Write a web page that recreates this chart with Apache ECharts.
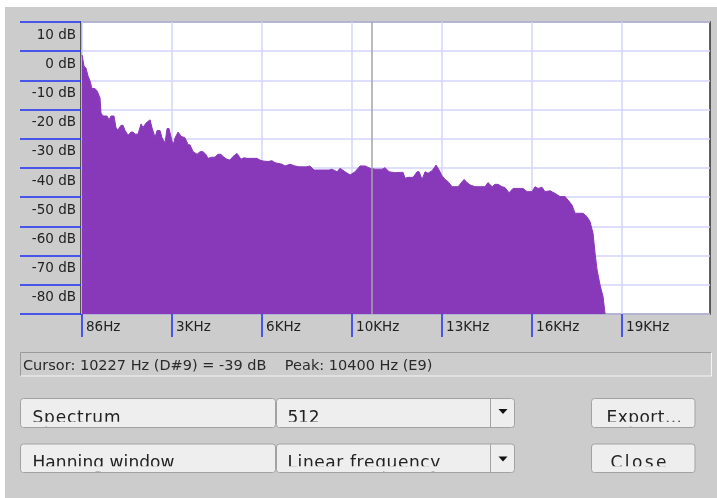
<!DOCTYPE html>
<html>
<head>
<meta charset="utf-8">
<script src="https://cdn.jsdelivr.net/npm/echarts@6/dist/echarts.min.js"></script>
<style>
  html, body { margin: 0; padding: 0; background: #ffffff; }
  #chart { width: 717px; height: 498px; }
</style>
</head>
<body>
<div id="chart"></div>
<script>
// Spectrum of the selection: frequency (Hz) and level (dB)
const freqHz = [
  86, 155, 225, 295, 365, 435, 540, 610, 645, 715,
  750, 820, 960, 1030, 1100, 1205, 1275, 1345, 1450, 1520,
  1590, 1695, 1800, 1870, 1940, 2045, 2150, 2220, 2325, 2465,
  2535, 2640, 2710, 2815, 2885, 2990, 3060, 3130, 3200, 3270,
  3340, 3445, 3550, 3690, 3795, 3865, 3970, 4110, 4215, 4320,
  4425, 4490, 4630, 4735, 4840, 4945, 5015, 5155, 5260, 5365,
  5505, 5540, 5645, 5750, 5855, 5960, 6065, 6205, 6310, 6415,
  6590, 6730, 6835, 7080, 7185, 7360, 7535, 7675, 7955, 8060,
  8200, 8375, 8550, 8725, 8830, 9005, 9110, 9285, 9460, 9635,
  9810, 9985, 10160, 10335, 10580, 10685, 10825, 11035, 11210, 11315,
  11385, 11490, 11665, 11805, 11875, 11980, 12085, 12190, 12330, 12470,
  12575, 12680, 12785, 12890, 13030, 13240, 13380, 13450, 13550, 13660,
  13830, 14010, 14180, 14285, 14430, 14530, 14635, 14775, 14880, 15020,
  15160, 15335, 15510, 15650, 15825, 15930, 16035, 16175, 16280, 16455,
  16630, 16805, 16980, 17085, 17225, 17330, 17610, 17750, 17855, 17960,
  18030, 18100, 18205, 18310, 18380
];
const levelDb = [
  -1.3, -5.1, -5.8, -8.5, -10.2, -12.8, -12.8, -13.6, -14.3, -16.0,
  -21.2, -22.2, -22.2, -23.5, -22.2, -22.2, -26.3, -26.9, -25.4, -25.4,
  -27.1, -28.8, -27.7, -27.7, -28.4, -28.4, -24.9, -26.1, -24.6, -23.5,
  -26.3, -29.5, -27.2, -27.2, -29.7, -31.4, -26.5, -26.5, -29.4, -32.2,
  -29.7, -27.7, -29.1, -29.7, -32.0, -32.1, -34.4, -35.3, -34.4, -34.4,
  -35.5, -36.7, -36.3, -36.3, -35.3, -35.3, -36.1, -37.0, -37.3, -36.1,
  -35.0, -35.0, -37.0, -36.5, -36.7, -36.7, -36.7, -36.7, -37.3, -37.6,
  -37.8, -37.5, -38.2, -38.7, -39.3, -38.7, -39.3, -39.6, -39.6, -39.3,
  -40.7, -40.7, -40.7, -40.7, -40.4, -41.3, -40.1, -41.3, -42.4, -41.3,
  -39.3, -39.3, -40.1, -40.4, -40.4, -39.9, -41.3, -41.6, -41.5, -41.5,
  -43.5, -43.2, -43.2, -41.3, -41.3, -43.9, -41.3, -41.8, -40.9, -39.0,
  -40.7, -42.7, -43.9, -44.7, -46.4, -46.4, -44.7, -43.9, -45.0, -45.8,
  -46.4, -46.4, -46.4, -45.0, -46.4, -45.6, -45.6, -46.4, -46.7, -48.5,
  -47.0, -47.0, -47.0, -48.1, -48.1, -46.4, -47.0, -46.6, -48.1, -47.8,
  -48.7, -49.8, -49.8, -51.0, -52.7, -55.5, -55.5, -56.7, -58.4, -62.4,
  -69.2, -74.9, -80.1, -84.1, -90.0
];

// Frequency ruler
const freqTicks = [86, 3234, 6382, 9530, 12678, 15826, 18974];
const freqTickLabels = ['86Hz', '3KHz', '6KHz', '10KHz', '13KHz', '16KHz', '19KHz'];

// Cursor read-out
const cursorHz = 10227;
const cursorNote = 'D#9';
const cursorDb = -39;
const peakHz = 10400;
const peakNote = 'E9';

// Dialog controls
const algorithmChoice = 'Spectrum';
const sizeChoice = '512';
const windowChoice = 'Hanning window';
const axisChoice = 'Linear frequency';
const exportLabel = 'Export...';
const closeLabel = 'Close';

const FONT = '"DejaVu Sans", "Liberation Sans", sans-serif';
const TICK_BLUE = '#1e2ef2';
const GRID_LAVENDER = '#d3d3fc';
const SPECTRUM = '#8839b9';

const chart = echarts.init(document.getElementById('chart'), null, { renderer: 'canvas' });

// Letter-spaced label, fitted to a given width
const measureCtx = document.createElement('canvas').getContext('2d');
function spacedText(str, x, y, width, size, color) {
  const font = size + 'px ' + FONT;
  measureCtx.font = font;
  const chars = Array.from(str);
  const natural = measureCtx.measureText(str).width;
  const gap = chars.length > 1 ? (width - natural) / (chars.length - 1) : 0;
  let cx = x;
  const els = [];
  chars.forEach(function (ch) {
    els.push({
      type: 'text', x: cx, y: y, z: 20, silent: true,
      style: { text: ch, font: font, fill: color, align: 'left', verticalAlign: 'middle' }
    });
    cx += measureCtx.measureText(ch).width + gap;
  });
  return els;
}

const FACE = '#eeeeee';
const EDGE = '#a2a2a2';

function buttonFace(x, y, w, h) {
  return {
    type: 'rect', z: 10, silent: true,
    shape: { x: x, y: y, width: w, height: h, r: 3 },
    style: { fill: FACE, stroke: EDGE, lineWidth: 1 }
  };
}
// covers the lower part of a label (labels are cut off just above their baseline)
function labelCut(x, y, w, h) {
  return {
    type: 'rect', z: 30, silent: true,
    shape: { x: x, y: y, width: w, height: h },
    style: { fill: FACE }
  };
}
function arrow(cx, cy) {
  return {
    type: 'polygon', z: 31, silent: true,
    shape: { points: [[cx - 4.5, cy - 2.5], [cx + 4.5, cy - 2.5], [cx, cy + 2.5]] },
    style: { fill: '#111111' }
  };
}
function separator(x, y1, y2) {
  return {
    type: 'line', z: 31, silent: true,
    shape: { x1: x, y1: y1, x2: x, y2: y2 },
    style: { stroke: EDGE, lineWidth: 1 }
  };
}

const statusText = 'Cursor: ' + cursorHz + ' Hz (' + cursorNote + ') = ' + cursorDb + ' dB    Peak: ' +
  peakHz + ' Hz (' + peakNote + ')';

const elements = [
  { type: 'rect', z: 0, silent: true, shape: { x: 0, y: 0, width: 717, height: 7 }, style: { fill: '#ffffff' } },
  { type: 'rect', z: 0, silent: true, shape: { x: 0, y: 0, width: 5, height: 498 }, style: { fill: '#ffffff' } },
  // status bar
  { type: 'rect', z: 10, silent: true, shape: { x: 20.5, y: 352.5, width: 691, height: 23.5 }, style: { fill: '#cdcdcd', stroke: null } },
  { type: 'polyline', z: 11, silent: true, shape: { points: [[20.5, 376], [20.5, 352.5], [711.5, 352.5]] }, style: { stroke: '#9a9a9a', lineWidth: 1, fill: null } },
  { type: 'polyline', z: 11, silent: true, shape: { points: [[711.5, 352.5], [711.5, 376], [20.5, 376]] }, style: { stroke: '#f4f4f4', lineWidth: 1, fill: null } },
  {
    type: 'text', z: 20, silent: true, x: 23, y: 366,
    style: { text: statusText, font: '14.5px ' + FONT, fill: '#2a2a2a', align: 'left', verticalAlign: 'middle' }
  },
  // first row
  buttonFace(20.5, 398.5, 255, 29),
  buttonFace(276.5, 398.5, 238, 29),
  separator(490.5, 399, 427),
  buttonFace(591.5, 398.5, 103.5, 29),
  // second row
  buttonFace(20.5, 444, 255, 28.5),
  buttonFace(276.5, 444, 238, 28.5),
  separator(490.5, 444.5, 472),
  buttonFace(591.5, 444, 103.5, 28.5)
];

const BTN_SIZE = 17;
elements.push.apply(elements, spacedText(algorithmChoice, 32.5, 418.2, 88, BTN_SIZE, '#222222'));
elements.push.apply(elements, spacedText(sizeChoice, 287.5, 418.2, 32, BTN_SIZE, '#222222'));
elements.push.apply(elements, spacedText(exportLabel, 606.5, 418.2, 75.5, BTN_SIZE, '#222222'));
elements.push.apply(elements, spacedText(windowChoice, 32.5, 463.2, 142, BTN_SIZE, '#222222'));
elements.push.apply(elements, spacedText(axisChoice, 287.5, 463.2, 152.5, BTN_SIZE, '#222222'));
elements.push.apply(elements, spacedText(closeLabel, 610.5, 463.2, 56, BTN_SIZE, '#222222'));

elements.push(
  labelCut(22, 421.8, 252, 5), labelCut(278, 421.8, 211, 5), labelCut(593, 421.8, 100.5, 5),
  labelCut(22, 466.2, 252, 5.5), labelCut(278, 466.2, 211, 5.5), labelCut(593, 466.2, 100.5, 5.5),
  arrow(503, 411.5), arrow(503, 459)
);

const option = {
  animation: false,
  backgroundColor: '#cccccc',
  grid: {
    left: 81, top: 22, width: 629, height: 292,
    show: true, backgroundColor: '#ffffff', borderColor: '#2e2e2e', borderWidth: 1.5,
    outerBoundsMode: 'none', containLabel: false
  },
  xAxis: {
    type: 'value', min: 50, max: 22050, position: 'bottom',
    axisLine: { show: false, onZero: false },
    axisTick: { show: true, customValues: freqTicks, length: 23, lineStyle: { color: TICK_BLUE, width: 1.5 } },
    axisLabel: {
      customValues: freqTicks, showMinLabel: true, showMaxLabel: true,
      formatter: function (v) { const i = freqTicks.indexOf(v); return i >= 0 ? freqTickLabels[i] : ''; },
      color: '#222222', fontFamily: FONT, fontSize: 13.5,
      align: 'left', verticalAlign: 'middle', margin: 13.5, padding: [0, 0, 0, 4]
    },
    splitLine: { show: true, lineStyle: { color: GRID_LAVENDER, width: 1.5 } }
  },
  yAxis: {
    type: 'value', min: -90, max: 10, interval: 10,
    axisLine: { show: false, onZero: false },
    axisTick: { show: true, length: 61, lineStyle: { color: TICK_BLUE, width: 1.5 } },
    axisLabel: {
      formatter: function (v) { return v === -90 ? '' : v + ' dB'; },
      color: '#222222', fontFamily: FONT, fontSize: 13.5,
      align: 'right', verticalAlign: 'top', margin: 5, padding: [6, 0, 0, 0],
      showMinLabel: true, showMaxLabel: true
    },
    splitLine: { show: true, lineStyle: { color: GRID_LAVENDER, width: 1.5 } }
  },
  series: [{
    type: 'line',
    data: freqHz.map(function (f, i) { return [f, levelDb[i]]; }),
    symbol: 'none',
    lineStyle: { color: SPECTRUM, width: 1 },
    areaStyle: { color: SPECTRUM, opacity: 1, origin: 'start' },
    silent: true,
    markLine: {
      silent: true, symbol: ['none', 'none'], label: { show: false },
      lineStyle: { color: '#a4a4a4', width: 1.5, type: 'solid' },
      data: [{ xAxis: cursorHz }]
    }
  }],
  graphic: { elements: elements }
};

chart.setOption(option);
</script>
</body>
</html>
